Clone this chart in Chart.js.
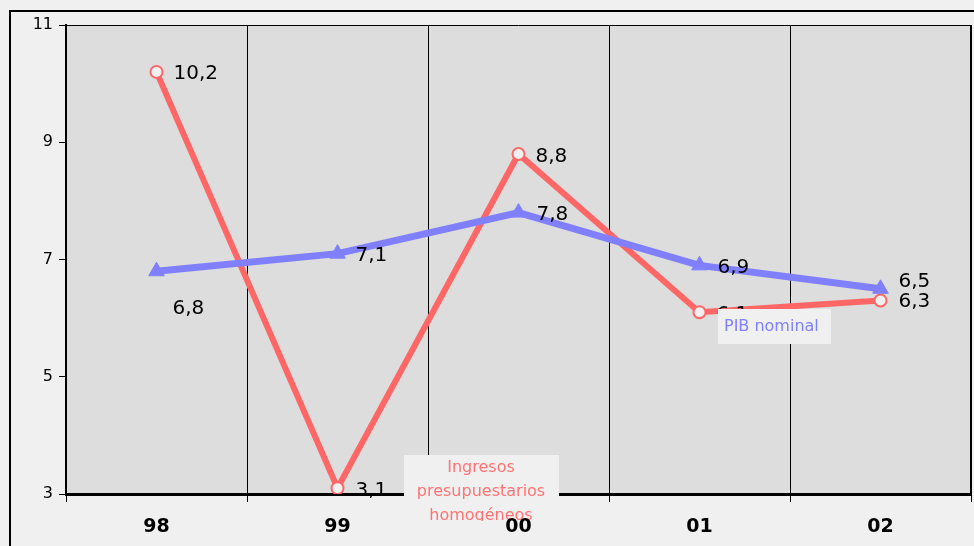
<!DOCTYPE html>
<html>
<head>
<meta charset="utf-8">
<script src="https://cdn.jsdelivr.net/npm/chart.js@4.4.1/dist/chart.umd.min.js"></script>
<style>
  html, body { margin: 0; padding: 0; background: #F0F0F0; }
  #wrap { width: 974px; height: 546px; }
</style>
</head>
<body>
<div id="wrap"><canvas id="c" width="974" height="546"></canvas></div>
<script>
// Años (eje de categorías) y tasas de variación (%)
const years = ['98', '99', '00', '01', '02'];
const ingresos = [10.2, 3.1, 8.8, 6.1, 6.3];
const pib = [6.8, 7.1, 7.8, 6.9, 6.5];
const yTicks = [3, 5, 7, 9, 11];

const RED = '#FF6666';
const BLUE = '#8080FF';
const PAGE = '#F0F0F0';
const PLOT = '#DDDDDD';
const FONT = '"DejaVu Sans", Verdana, sans-serif';

// Desplazamiento de cada etiqueta de valor respecto a su punto
const redLabelOffsets = [[17, 2], [18, 3], [17, 3], [17, 3], [18, 1]];
const blueLabelOffsets = [[16, 38], [18, 2], [18, 2], [18, 2], [18, -7]];

const fmt = v => v.toFixed(1).replace('.', ',');

const chromePlugin = {
  id: 'chrome',
  beforeDraw(chart) {
    const ctx = chart.ctx;
    const a = chart.chartArea;
    ctx.save();
    ctx.fillStyle = PAGE;
    ctx.fillRect(0, 0, chart.width, chart.height);
    // marco exterior
    ctx.strokeStyle = '#000';
    ctx.lineWidth = 2;
    ctx.strokeRect(10, 11, chart.width + 20, chart.height + 20);
    // fondo del área de trazado
    ctx.fillStyle = PLOT;
    ctx.fillRect(a.left, a.top, a.right - a.left, a.bottom - a.top);
    ctx.strokeStyle = '#000';
    ctx.lineWidth = 1;
    ctx.beginPath();
    ctx.moveTo(a.left, a.top + 0.5);
    ctx.lineTo(a.right, a.top + 0.5);
    ctx.stroke();
    ctx.lineWidth = 2;
    ctx.beginPath();
    ctx.moveTo(a.right, a.top);
    ctx.lineTo(a.right, a.bottom);
    ctx.stroke();
    ctx.restore();
  },
  afterDatasetsDraw(chart) {
    const ctx = chart.ctx;
    ctx.save();
    ctx.font = '20px ' + FONT;
    ctx.fillStyle = '#000';
    ctx.textAlign = 'left';
    ctx.textBaseline = 'middle';
    const sets = [[ingresos, redLabelOffsets], [pib, blueLabelOffsets]];
    sets.forEach(([vals, offs]) => {
      const di = chart.data.datasets.findIndex(d => d.data === vals);
      const meta = chart.getDatasetMeta(di);
      meta.data.forEach((pt, i) => {
        const [dx, dy] = offs[i];
        ctx.fillText(fmt(vals[i]), pt.x + dx, pt.y + dy);
      });
    });
    ctx.restore();
  },
  afterDraw(chart) {
    const ctx = chart.ctx;
    const xs = chart.scales.x;
    ctx.save();
    // rótulo de la serie PIB
    ctx.fillStyle = PAGE;
    ctx.fillRect(718, 309, 113, 35);
    ctx.fillStyle = BLUE;
    ctx.font = '16px ' + FONT;
    ctx.textAlign = 'left';
    ctx.textBaseline = 'middle';
    ctx.fillText('PIB nominal', 724, 327);
    // rótulo de la serie de ingresos
    ctx.fillStyle = PAGE;
    ctx.fillRect(404, 455, 155, 66);
    ctx.beginPath();
    ctx.rect(404, 455, 155, 66);
    ctx.clip();
    ctx.fillStyle = '#FF7373';
    ctx.font = '16px ' + FONT;
    ctx.textAlign = 'center';
    ctx.fillText('Ingresos', 481, 468);
    ctx.fillText('presupuestarios', 481, 492);
    ctx.fillText('homogéneos', 481, 516);
    ctx.restore();
    // etiquetas del eje de categorías, por encima de los rótulos
    ctx.save();
    ctx.fillStyle = '#000';
    ctx.font = 'bold 19px ' + FONT;
    ctx.textAlign = 'center';
    ctx.textBaseline = 'middle';
    years.forEach((y, i) => {
      ctx.fillText(y, xs.getPixelForValue(i), 527);
    });
    ctx.restore();
  }
};

new Chart(document.getElementById('c'), {
  type: 'line',
  data: {
    labels: years,
    datasets: [
      {
        label: 'PIB nominal',
        data: pib,
        borderColor: BLUE,
        backgroundColor: BLUE,
        borderWidth: 7,
        pointStyle: 'triangle',
        pointRadius: 9,
        pointBorderWidth: 1,
        pointBackgroundColor: BLUE,
        pointBorderColor: BLUE,
        tension: 0,
        order: 1
      },
      {
        label: 'Ingresos presupuestarios homogéneos',
        data: ingresos,
        borderColor: RED,
        backgroundColor: RED,
        borderWidth: 6,
        pointStyle: 'circle',
        pointRadius: 6,
        pointBorderWidth: 2,
        pointBackgroundColor: PAGE,
        pointBorderColor: RED,
        tension: 0,
        order: 2
      }
    ]
  },
  options: {
    responsive: false,
    animation: false,
    devicePixelRatio: 1,
    layout: { autoPadding: false, padding: { left: 0, top: 25, right: 3, bottom: 0 } },
    plugins: {
      legend: { display: false },
      tooltip: { enabled: false },
      title: { display: false }
    },
    scales: {
      x: {
        type: 'category',
        offset: true,
        afterFit(s) { s.height = 52; s.paddingLeft = 0; s.paddingRight = 0; },
        grid: {
          offset: true,
          display: true,
          drawOnChartArea: true,
          color: '#000',
          lineWidth: 1,
          tickLength: 8
        },
        border: { display: true, color: '#000', width: 3 },
        ticks: {
          color: 'rgba(0,0,0,0)',
          font: { family: FONT, size: 19, weight: 'bold' }
        }
      },
      y: {
        min: 3,
        max: 11,
        afterFit(s) { s.width = 66; s.paddingTop = 0; s.paddingBottom = 0; },
        afterBuildTicks(s) { s.ticks = yTicks.map(v => ({ value: v })); },
        grid: {
          display: true,
          drawOnChartArea: false,
          color: '#000',
          lineWidth: 1,
          tickLength: 7
        },
        border: { display: true, color: '#000', width: 2 },
        ticks: {
          color: '#000',
          padding: 6,
          font: { family: FONT, size: 16 },
          callback: v => String(v)
        }
      }
    }
  },
  plugins: [chromePlugin]
});
</script>
</body>
</html>
